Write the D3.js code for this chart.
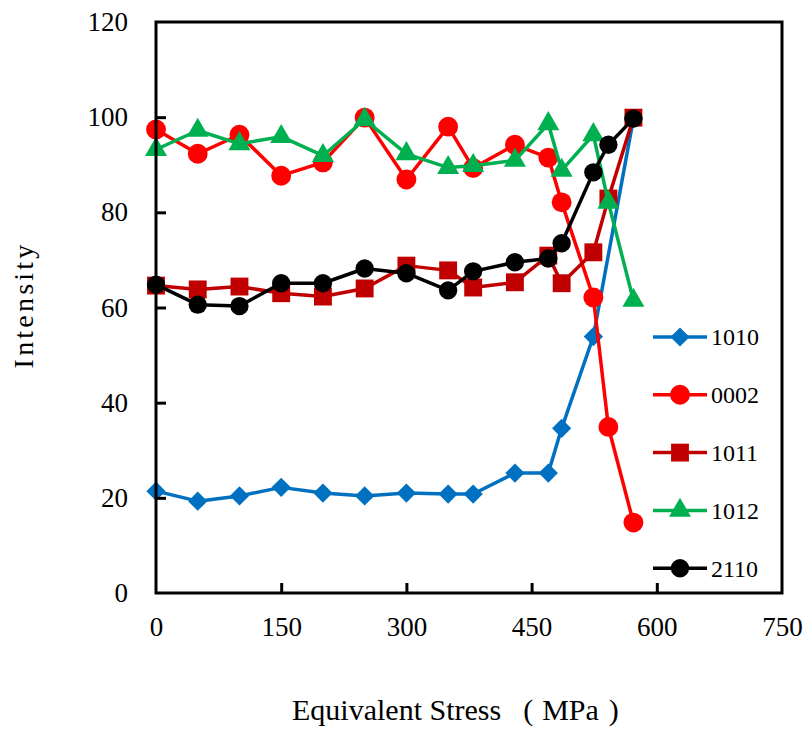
<!DOCTYPE html>
<html>
<head>
<meta charset="utf-8">
<script src="https://cdn.jsdelivr.net/npm/d3@7"></script>
<style>
    body { margin: 0; background: #fff; }
    svg text { font-family: "Liberation Serif", "Times New Roman", serif; fill: #000; }
</style>
</head>
<body>
<div id="chart"></div>
<script>
// Equivalent stress (MPa) at each measurement
const stress = [0, 50, 100, 150, 200, 250, 300, 350, 380, 430, 470, 486, 524, 542, 572];

// Peak intensity per plane
const s1010 = [21.4, 19.3, 20.4, 22.2, 21.0, 20.4, 21.0, 20.8, 20.8, 25.2, 25.2, 34.6, 53.9, null, 99.7];
const s0002 = [97.4, 92.3, 96.3, 87.7, 90.5, 99.9, 86.9, 98.0, 89.3, 94.2, 91.5, 82.1, 62.1, 34.9, 14.8];
const s1011 = [64.6, 63.8, 64.4, 63.0, 62.3, 64.0, 68.8, 67.8, 64.2, 65.3, 70.9, 65.1, 71.6, 82.9, 99.9];
const s1012 = [93.2, 97.2, 94.4, 95.9, 91.9, 99.5, 92.3, 89.4, 89.8, 90.9, 98.6, 88.8, 96.3, 82.1, 61.5];
const s2110 = [64.8, 60.6, 60.3, 65.1, 65.1, 68.2, 67.2, 63.6, 67.6, 69.5, 70.3, 73.5, 88.4, 94.2, 99.7];

const xTicks = [0, 150, 300, 450, 600, 750];
const yTicks = [0, 20, 40, 60, 80, 100, 120];

// Excel style diamond: a square turned 45 degrees
const symbolRhomb = {
    draw(ctx, size) {
        const r = Math.sqrt(size / 2);
        ctx.moveTo(0, -r);
        ctx.lineTo(r, 0);
        ctx.lineTo(0, r);
        ctx.lineTo(-r, 0);
        ctx.closePath();
    }
};

const series = [
    { name: "1010", values: s1010, color: "#0070C0", symbol: symbolRhomb, size: 185 },
    { name: "0002", values: s0002, color: "#FF0000", symbol: d3.symbolCircle, size: 310 },
    { name: "1011", values: s1011, color: "#C00000", symbol: d3.symbolSquare, size: 320 },
    { name: "1012", values: s1012, color: "#00B050", symbol: d3.symbolTriangle, size: 210 },
    { name: "2110", values: s2110, color: "#000000", symbol: d3.symbolCircle, size: 265 }
];

const width = 808, height = 734;
const margin = { top: 22, right: 26, bottom: 141, left: 156 };
const w = width - margin.left - margin.right;
const h = height - margin.top - margin.bottom;

const svg = d3.select("#chart").append("svg")
    .attr("width", width)
    .attr("height", height);

const g = svg.append("g").attr("transform", `translate(${margin.left},${margin.top})`);

const x = d3.scaleLinear().domain([0, 750]).range([0, w]);
const y = d3.scaleLinear().domain([0, 120]).range([h, 0]);

// Lines and markers
series.forEach(s => {
    const pts = stress.map((v, i) => ({ x: v, y: s.values[i] })).filter(d => d.y != null);
    const line = d3.line().x(d => x(d.x)).y(d => y(d.y));

    g.append("path")
        .datum(pts)
        .attr("fill", "none")
        .attr("stroke", s.color)
        .attr("stroke-width", 3.5)
        .attr("stroke-linejoin", "round")
        .attr("d", line);

    g.selectAll(null)
        .data(pts)
        .enter().append("path")
        .attr("transform", d => `translate(${x(d.x)},${y(d.y)})`)
        .attr("d", d3.symbol().type(s.symbol).size(s.size))
        .attr("fill", s.color);
});

// Frame
g.append("rect")
    .attr("width", w)
    .attr("height", h)
    .attr("fill", "none")
    .attr("stroke", "#000")
    .attr("stroke-width", 3);

// Axes (inward ticks)
const xAxis = g.append("g")
    .attr("transform", `translate(0,${h})`)
    .call(d3.axisBottom(x).tickValues(xTicks).tickSize(-10).tickPadding(24));
const yAxis = g.append("g")
    .call(d3.axisLeft(y).tickValues(yTicks).tickSize(-10).tickPadding(28));

[xAxis, yAxis].forEach(ax => {
    ax.select(".domain").remove();
    ax.selectAll(".tick line").attr("stroke", "#000").attr("stroke-width", 3);
    ax.selectAll(".tick text")
        .attr("font-size", 27)
        .attr("fill", "#000");
});
xAxis.selectAll(".tick text").attr("dy", "0.71em");
// no tick marks on the frame corners
xAxis.selectAll(".tick").filter(d => d === 0 || d === 750).select("line").remove();
yAxis.selectAll(".tick").filter(d => d === 0 || d === 120).select("line").remove();

// Axis titles
svg.append("text")
    .attr("transform", `translate(33,305) rotate(-90)`)
    .attr("text-anchor", "middle")
    .attr("font-size", 28)
    .attr("letter-spacing", 3.2)
    .text("Intensity");

const xt = svg.append("text")
    .attr("x", 292)
    .attr("y", 720)
    .attr("font-size", 30);
xt.append("tspan").text("Equivalent Stress");
xt.append("tspan").attr("dx", 22).text("(");
xt.append("tspan").attr("dx", 9).text("MPa");
xt.append("tspan").attr("dx", 10).text(")");

// Legend
const legend = g.append("g").attr("transform", `translate(${653 - margin.left},${337 - margin.top})`);
series.forEach((s, i) => {
    const row = legend.append("g").attr("transform", `translate(0,${i * 57.8})`);
    row.append("line")
        .attr("x1", 0).attr("x2", 54)
        .attr("stroke", s.color)
        .attr("stroke-width", 3.5);
    row.append("path")
        .attr("transform", "translate(27,0)")
        .attr("d", d3.symbol().type(s.symbol).size(s.size))
        .attr("fill", s.color);
    row.append("text")
        .attr("x", 58)
        .attr("y", 0)
        .attr("dy", "0.35em")
        .attr("font-size", 24)
        .text(s.name);
});
</script>
</body>
</html>
